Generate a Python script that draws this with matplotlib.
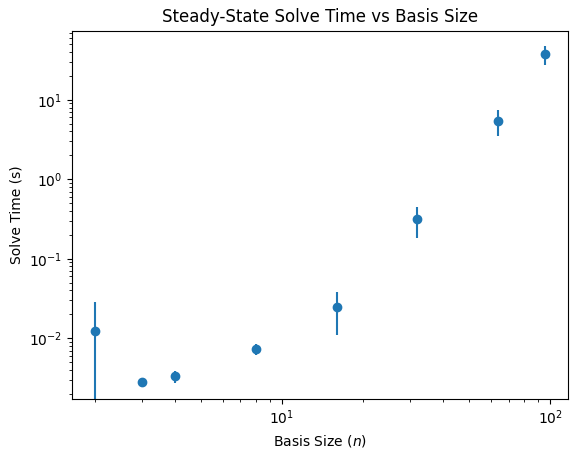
import matplotlib
matplotlib.use("Agg")
import matplotlib.pyplot as plt

# basis sizes and mean solve times (s) with std dev
basis_sizes = [2, 3, 4, 8, 16, 32, 64, 96]
solve_times = [0.0124, 0.00279, 0.00331, 0.00726, 0.0246, 0.316, 5.49, 37.7]
solve_errs = [0.0165, 0.0002, 0.00055, 0.00115, 0.0135, 0.134, 1.97, 10.0]

fig = plt.figure(figsize=(5.78, 4.59), dpi=100)
ax = fig.add_axes([72 / 578, 1 - 399 / 459, 496 / 578, 368.5 / 459])

ax.errorbar(basis_sizes, solve_times, yerr=solve_errs, fmt='o')
ax.set_xscale('log')
ax.set_yscale('log')
ax.set_ylim(0.00172, 74.6)
ax.set_xlabel('Basis Size ($n$)')
ax.set_ylabel('Solve Time (s)')
ax.set_title('Steady-State Solve Time vs Basis Size')

fig.savefig('out.png', dpi=100)
